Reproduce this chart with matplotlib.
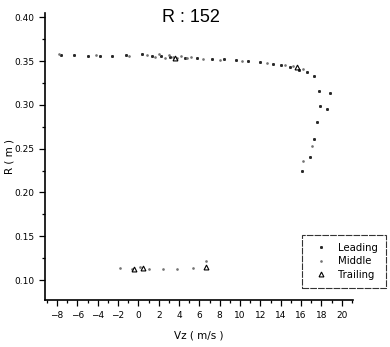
import matplotlib
matplotlib.use("Agg")
import matplotlib.pyplot as plt
from matplotlib.ticker import MultipleLocator

# --- data --- #
lead_vz = [-7.6, -6.3, -5.0, -3.8, -2.6, -1.2, 0.4, 1.3, 2.2, 3.1, 4.6, 5.8, 7.2, 8.4, 9.6,
           10.8, 12.0, 13.2, 14.0, 14.9, 15.8, 16.6, 17.3, 17.8, 18.8, 17.9, 18.5, 17.6, 17.3,
           16.9, 16.1]
lead_r = [0.357, 0.357, 0.356, 0.356, 0.356, 0.357, 0.358, 0.356, 0.356, 0.355, 0.354, 0.353,
          0.352, 0.352, 0.351, 0.350, 0.349, 0.347, 0.345, 0.343, 0.340, 0.337, 0.333, 0.316,
          0.313, 0.299, 0.295, 0.280, 0.261, 0.240, 0.224]

mid_vz = [-7.8, -4.2, -0.9, 0.8, 1.6, 2.0, 2.6, 3.0, 3.4, 3.8, 4.2, 4.8, 5.2, 6.4, 8.0, 10.2,
          12.6, 14.4, 15.2, 16.2, 17.1, 16.2, -1.8, -0.6, 0.2, 1.0, 2.4, 3.8, 5.4, 6.6]
mid_r = [0.358, 0.357, 0.356, 0.357, 0.355, 0.358, 0.354, 0.357, 0.355, 0.353, 0.356, 0.354,
         0.355, 0.352, 0.351, 0.350, 0.348, 0.346, 0.344, 0.341, 0.253, 0.236, 0.114, 0.112,
         0.115, 0.113, 0.113, 0.113, 0.114, 0.122]

trail_vz = [3.6, 15.6, -0.4, 0.5, 6.6]
trail_r = [0.353, 0.343, 0.112, 0.114, 0.115]

# --- figure --- #
fig = plt.figure(figsize=(3.9, 3.47), dpi=100)
ax = fig.add_axes([0.115, 0.135, 0.79, 0.828])

ax.plot(lead_vz, lead_r, ls="none", marker="s", ms=1.1, color="0.15", label="Leading")
ax.plot(mid_vz, mid_r, ls="none", marker="o", ms=0.9, color="0.45", label="Middle")
ax.plot(trail_vz, trail_r, ls="none", marker="^", ms=3.5, mfc="none", mec="black",
        mew=0.8, label="Trailing")

ax.set_xlim(-9.2, 21.1)
ax.set_ylim(0.077, 0.405)
ax.xaxis.set_major_locator(MultipleLocator(2))
ax.xaxis.set_minor_locator(MultipleLocator(1))
ax.yaxis.set_major_locator(MultipleLocator(0.05))
ax.yaxis.set_minor_locator(MultipleLocator(0.025))
ax.tick_params(which="both", direction="out", labelsize=6.5, width=0.9)
ax.tick_params(which="major", length=4)
ax.tick_params(which="minor", length=2)
ax.set_yticks([0.10, 0.15, 0.20, 0.25, 0.30, 0.35, 0.40])
ax.set_yticklabels(["0.10", "0.15", "0.20", "0.25", "0.30", "0.35", "0.40"])

for side in ["top", "right"]:
    ax.spines[side].set_visible(False)
for side in ["left", "bottom"]:
    ax.spines[side].set_linewidth(1.2)

ax.set_xlabel("Vz ( m/s )", fontsize=7.5, labelpad=8)
ax.set_ylabel("R ( m )", fontsize=7.5, labelpad=0)

fig.text(0.49, 0.975, "R : 152", ha="center", va="top", fontsize=13,
         family="Liberation Sans")

leg = fig.legend(loc="lower right", bbox_to_anchor=(1.003, 0.155), fontsize=7.3,
                 frameon=True, fancybox=False, edgecolor="black", handlelength=2.2,
                 handletextpad=0.6, borderpad=0.8, labelspacing=0.35)
leg.get_frame().set_linewidth(0.8)
leg.get_frame().set_linestyle((0, (6, 1)))

fig.savefig("out.png", dpi=100)
